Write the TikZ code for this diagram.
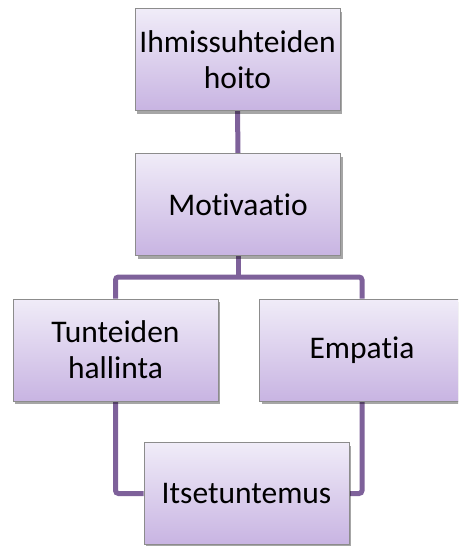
\documentclass[tikz,border=0pt]{standalone}
\usepackage{fontspec}
\setmainfont{Carlito}[Ligatures=NoCommon]
\usetikzlibrary{shadows,backgrounds}
\definecolor{boxtop}{HTML}{F0ECF8}
\definecolor{boxbot}{HTML}{C8B4E2}
\definecolor{boxline}{HTML}{8C8C8C}
\definecolor{conn}{HTML}{7E619A}
\begin{document}
\begin{tikzpicture}[x=1pt,y=-1pt,
  orgbox/.style={draw=boxline, line width=0.8pt, top color=boxtop, bottom color=boxbot,
    minimum width=205pt, minimum height=102pt, align=center, inner sep=2pt,
    font=\fontsize{31.5}{36}\selectfont, text=black,
    drop shadow={shadow xshift=2pt, shadow yshift=-3pt, opacity=0.35, fill=black}},
  link/.style={draw=conn, line width=5pt, rounded corners=3pt}]
\useasboundingbox (0,0) rectangle (458,546);
\clip (0,0) rectangle (458,546);
\node[orgbox] (top) at (237.5,59.5) {Ihmissuhteiden\\hoito};
\node[orgbox] (mot) at (238,204.5) {Motivaatio};
\node[orgbox] (tun) at (115.5,350) {Tunteiden\\hallinta};
\node[orgbox] (emp) at (362,350) {Empatia};
\node[orgbox] (its) at (246.5,493.5) {Itsetuntemus};
\coordinate (bar) at (238,277);
\begin{scope}[on background layer]
\draw[link] (top.south) -- (mot.north);
\draw[link] (mot.south) -- (bar);
\draw[link] (tun.north) |- (bar) -| (emp.north);
\draw[link] (tun.south) |- (its.west);
\draw[link] (emp.south) |- (its.east);
\end{scope}
\end{tikzpicture}
\end{document}
